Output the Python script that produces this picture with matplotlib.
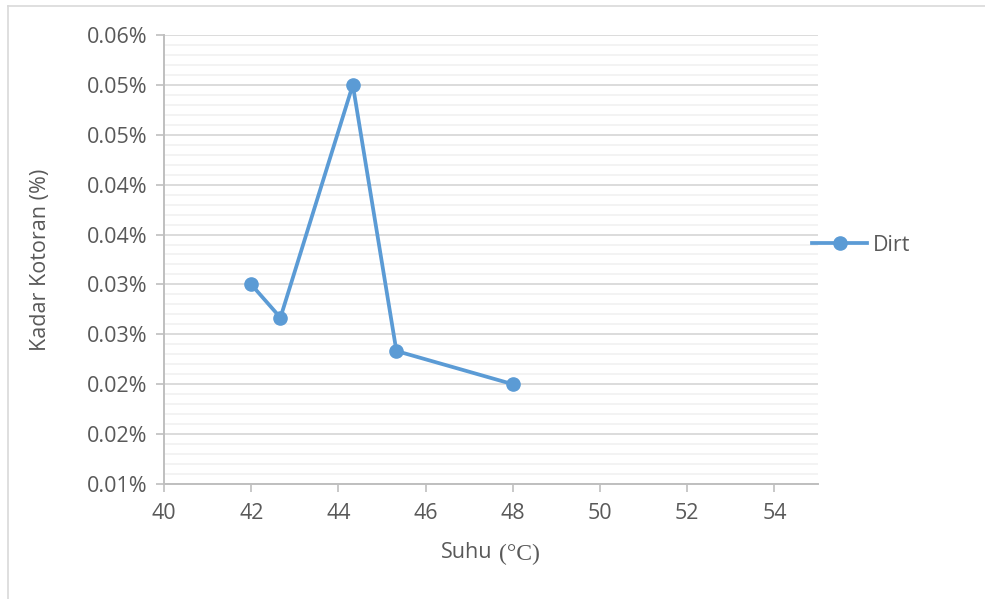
import matplotlib.pyplot as plt
import numpy as np
from matplotlib.lines import Line2D

# data: temperature (C) vs dirt content (%)
suhu = [42, 42.67, 44.33, 45.33, 48]
kotoran = [0.030, 0.02667, 0.050, 0.02333, 0.020]

x_ticks = [40, 42, 44, 46, 48, 50, 52, 54]
y_ticks = [0.010, 0.015, 0.020, 0.025, 0.030, 0.035, 0.040, 0.045, 0.050, 0.055]
y_labels = ['0.01%', '0.02%', '0.02%', '0.03%', '0.03%',
            '0.04%', '0.04%', '0.05%', '0.05%', '0.06%']

teks = '#595959'
biru = '#5B9BD5'
fs = 15.5
plt.rcParams['font.family'] = ['Open Sans', 'DejaVu Sans']

fig = plt.figure(figsize=(9.85, 5.99), dpi=100)
ax = fig.add_axes([0.1665, 0.192, 0.664, 0.7496])

# outer chart border (top and left only visible)
fig.add_artist(Line2D([8/985, 8/985], [0, 1 - 6/599], transform=fig.transFigure,
                      color='#D9D9D9', lw=1.2))
fig.add_artist(Line2D([8/985, 1], [1 - 6/599, 1 - 6/599], transform=fig.transFigure,
                      color='#D9D9D9', lw=1.2))

ax.plot(suhu, kotoran, color=biru, lw=2.7, marker='o', markersize=9.5,
        label='Dirt', zorder=3, clip_on=False)

ax.set_xlim(40, 55)
ax.set_ylim(0.010, 0.055)
ax.set_xticks(x_ticks)
ax.set_yticks(y_ticks)
ax.set_yticklabels(y_labels)
ax.set_yticks(np.arange(0.010, 0.0551, 0.001), minor=True)

ax.grid(axis='y', which='major', color='#D9D9D9', lw=1.3, zorder=0)
ax.grid(axis='y', which='minor', color='#F2F2F2', lw=1.3, zorder=0)
ax.set_axisbelow(True)

for s in ['top', 'right']:
    ax.spines[s].set_visible(False)
for s in ['left', 'bottom']:
    ax.spines[s].set_color('#BFBFBF')
    ax.spines[s].set_linewidth(1.4)

ax.tick_params(axis='both', which='major', direction='out', length=6,
               color='#BFBFBF', width=1.2, labelsize=fs, labelcolor=teks)
ax.tick_params(axis='y', which='minor', length=0)
ax.tick_params(axis='x', pad=8)
ax.tick_params(axis='y', pad=6)

ax.set_ylabel('Kadar Kotoran (%)', fontsize=fs, color=teks, labelpad=26)

# x axis title: sans text with serif unit
fig.text(0.5, 0.077, 'Suhu', fontsize=fs, color=teks, ha='right', va='center')
fig.text(0.507, 0.075, '(°C)', fontsize=fs + 1.5, color=teks, ha='left', va='center',
         family='Liberation Serif')

ax.legend(loc='center left', bbox_to_anchor=(0.991, 0.532), frameon=False,
          fontsize=fs, labelcolor=teks, handlelength=2.56, handletextpad=0.25,
          borderaxespad=0, borderpad=0)

fig.savefig('out.png', dpi=100, facecolor='white')
